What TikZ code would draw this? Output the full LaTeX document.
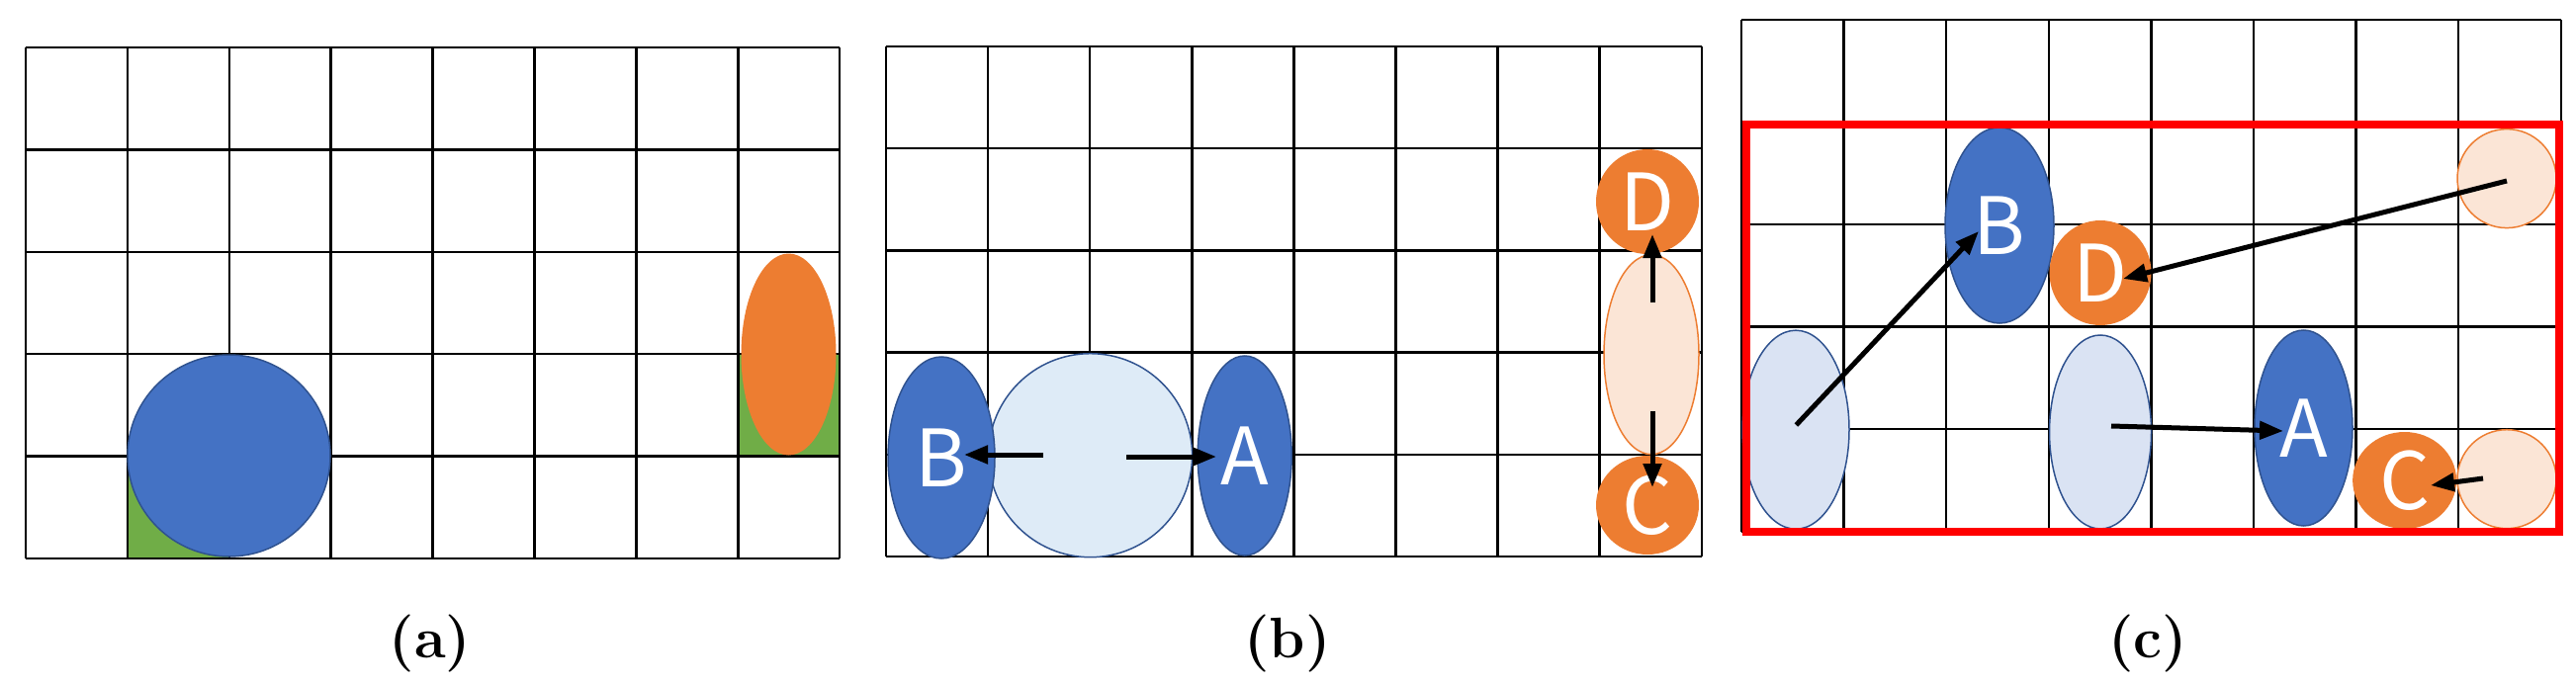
\documentclass[tikz,border=0pt]{standalone}
\usepackage{fontspec}
\newfontfamily\lbl{Noto Sans CJK JP}
\usetikzlibrary{shapes.geometric,arrows.meta}
\definecolor{cblue}{HTML}{4472C4}
\definecolor{cblueline}{HTML}{2F528F}
\definecolor{corange}{HTML}{ED7D31}
\definecolor{cgreen}{HTML}{70AD47}
\definecolor{clblue}{HTML}{DEEBF7}
\definecolor{clblueb}{HTML}{DAE3F3}
\definecolor{clorange}{HTML}{FBE5D6}
\begin{document}
\begin{tikzpicture}[x=1pt,y=-1pt,
  grid/.style={line width=2.5pt,black},
  shp/.style={ellipse,inner sep=0pt,font=\lbl\fontsize{80}{80}\selectfont,text=white},
  bl/.style={shp,fill=cblue,draw=cblueline,line width=1.5pt},
  or/.style={shp,fill=corange},
  lb/.style={shp,fill=clblue,draw=cblueline,line width=1.5pt},
  lo/.style={shp,fill=clorange,draw=corange,line width=1.5pt},
  arr/.style={line width=5pt,-{Triangle[length=24pt,width=18pt]}},
  sublabel/.style={font=\bfseries\fontsize{58}{60}\selectfont}]
\useasboundingbox (0,0) rectangle (2605,693);
% ---------- (a)
\fill[cgreen] (129,462) rectangle (232,565);
\fill[cgreen] (746,358) rectangle (849,462);
\foreach \i in {0,...,8} \draw[grid] (26+\i*102.9,48) -- (26+\i*102.9,565);
\foreach \j in {0,...,5} \draw[grid] (26,48+\j*103.4) -- (849,48+\j*103.4);
\node[bl,minimum width=205pt,minimum height=204pt] (a1) at (231.5,461) {};
\node[or,minimum width=96pt,minimum height=204pt] (a2) at (797.5,358.5) {};
\node[sublabel] (ca) at (435,651) {(a)};
% ---------- (b)
\foreach \i in {0,...,8} \draw[grid] (896+\i*103.1,47) -- (896+\i*103.1,563);
\foreach \j in {0,...,5} \draw[grid] (896,47+\j*103.2) -- (1720.5,47+\j*103.2);
\node[lb,minimum width=206pt,minimum height=206pt] (b0) at (1102.6,460.7) {};
\node[bl,minimum width=108pt,minimum height=204pt] (bB) at (952,463) {B};
\node[bl,minimum width=95pt,minimum height=202pt] (bA) at (1258.7,461) {A};
\node[lo,minimum width=96pt,minimum height=202pt] (b1) at (1670,358.7) {};
\node[or,minimum width=104pt,minimum height=106pt] (bD) at (1666,204) {D};
\node[or,minimum width=104pt,minimum height=100pt] (bC) at (1666,511) {C};
\coordinate (bs1) at (1055,460); \coordinate (be1) at (975,460);
\coordinate (bs2) at (1139,462); \coordinate (be2) at (1230,462);
\coordinate (bs3) at (1671,306); \coordinate (be3) at (1671,237);
\coordinate (bs4) at (1671,416); \coordinate (be4) at (1671,493);
\draw[arr] (bs1) -- (be1);
\draw[arr] (bs2) -- (be2);
\draw[arr] (bs3) -- (be3);
\draw[arr] (bs4) -- (be4);
\node[sublabel] (cb) at (1302,651) {(b)};
% ---------- (c)
\foreach \i in {0,...,8} \draw[grid] (1761+\i*103.6,20) -- (1761+\i*103.6,538);
\foreach \j in {0,...,5} \draw[grid] (1761,20+\j*103.5) -- (2590,20+\j*103.5);
\node[lb,fill=clblueb,minimum width=108pt,minimum height=201pt] (cL) at (1816,434.7) {};
\node[lb,fill=clblueb,minimum width=103pt,minimum height=196pt] (cM) at (2124,437) {};
\node[bl,minimum width=110pt,minimum height=198pt] (cB) at (2022,228) {B};
\node[or,minimum width=103pt,minimum height=106pt] (cD) at (2124,276) {D};
\node[bl,minimum width=99pt,minimum height=198pt] (cA) at (2329.5,433) {A};
\node[or,minimum width=105pt,minimum height=98pt] (cC) at (2431.6,486) {C};
\node[lo,minimum width=100pt,minimum height=100pt] (cT) at (2535,180.6) {};
\node[lo,minimum width=100pt,minimum height=100pt] (cR) at (2535,484.7) {};
\draw[red,line width=8pt] (1766,126) rectangle (2588,538);
\coordinate (cs1) at (1816.4,430); \coordinate (ce1) at (2001,234);
\coordinate (cs2) at (2535,183); \coordinate (ce2) at (2147,282);
\coordinate (cs3) at (2135,431); \coordinate (ce3) at (2309,436);
\coordinate (cs4) at (2511,484); \coordinate (ce4) at (2458,491);
\draw[arr] (cs1) -- (ce1);
\draw[arr] (cs2) -- (ce2);
\draw[arr] (cs3) -- (ce3);
\draw[arr] (cs4) -- (ce4);
\node[sublabel] (cc) at (2172,651) {(c)};
\end{tikzpicture}
\end{document}
